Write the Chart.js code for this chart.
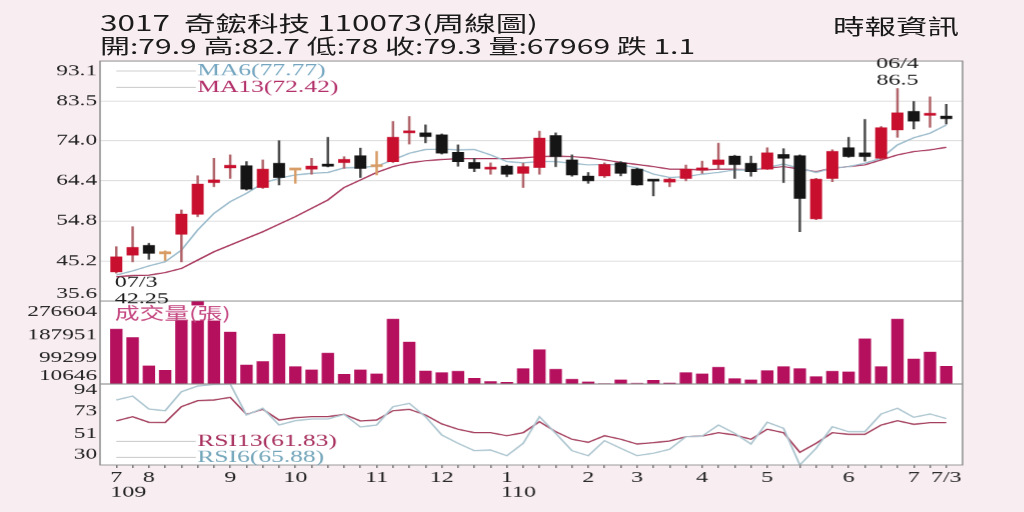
<!DOCTYPE html>
<html>
<head>
<meta charset="utf-8">
<script src="https://cdn.jsdelivr.net/npm/chart.js@4.4.1/dist/chart.umd.min.js"></script>
<style>
html, body { margin: 0; padding: 0; overflow: hidden; background: #f8edf1; }
#page { position: relative; width: 682.67px; height: 512px; transform: scaleX(1.5); transform-origin: 0 0; }
#chartBox { position: absolute; left: 0; top: 0; width: 682.67px; height: 512px; }
.head { position: absolute; font-family: "Noto Sans CJK TC", sans-serif; color: #1b1b1b; white-space: pre; line-height: 1; }
</style>
</head>
<body>
<div id="page">
  <div id="chartBox"><canvas id="weeklyKChart"></canvas></div>
  <div class="head" style="left:66.7px;top:12px;font-size:21px">3017  奇鋐科技 110073(周線圖)</div>
  <div class="head" style="left:66.7px;top:36px;font-size:20px">開:79.9 高:82.7 低:78 收:79.3 量:67969 跌 1.1</div>
  <div class="head" style="left:555.3px;top:15px;font-size:21px">時報資訊</div>
</div>
<script>
// weekly bars 109/07/03 .. 110/07/03
const openPrice = [42.6, 46.6, 48.9, 46.9, 51.6, 56.4, 64.0, 67.5, 68.0, 62.8,
    68.6, 67.0, 67.2, 68.1, 68.8, 70.4, 67.8, 69.0, 75.9, 75.9,
    75.4, 71.2, 68.8, 67.2, 67.9, 66.2, 67.6, 75.2, 69.4, 65.5,
    65.6, 68.7, 67.2, 64.4, 64.1, 65.0, 67.0, 68.3, 70.3, 68.6,
    67.2, 70.7, 70.4, 55.3, 65.0, 72.3, 71.1, 69.8, 76.6, 81.0,
    80.1, 79.9];
const closePrice = [46.2, 48.4, 47.0, 46.9, 56.4, 63.6, 64.6, 68.1, 62.4, 67.2,
    65.2, 67.0, 67.9, 67.9, 69.5, 67.4, 67.8, 74.8, 76.2, 75.0,
    71.0, 69.0, 67.4, 67.4, 66.0, 67.8, 74.6, 70.2, 65.8, 64.4,
    68.3, 66.2, 63.4, 64.3, 64.8, 67.2, 67.2, 69.4, 68.3, 66.6,
    71.1, 69.8, 60.2, 64.8, 71.4, 70.2, 70.2, 77.1, 80.7, 78.7,
    80.4, 79.3];
const highPrice = [48.6, 53.4, 49.4, 47.6, 57.4, 65.6, 69.8, 70.6, 69.0, 69.4,
    74.0, 67.4, 69.8, 74.8, 70.2, 72.2, 71.4, 78.6, 79.8, 77.8,
    75.6, 73.0, 69.8, 68.7, 68.2, 68.6, 76.3, 75.9, 70.6, 66.4,
    68.7, 69.0, 67.4, 64.5, 65.0, 68.2, 69.1, 73.4, 70.5, 70.3,
    72.3, 72.1, 70.6, 65.0, 71.8, 74.8, 79.1, 77.4, 86.5, 83.4,
    84.5, 82.7];
const lowPrice = [42.25, 45.0, 45.6, 45.3, 45.0, 55.8, 63.0, 65.0, 62.2, 62.6,
    63.4, 63.8, 66.0, 67.7, 67.4, 65.2, 65.8, 68.8, 73.2, 73.5,
    70.8, 67.9, 66.6, 66.0, 65.4, 62.8, 66.0, 67.8, 65.5, 63.8,
    65.2, 65.6, 63.3, 60.8, 63.0, 64.4, 66.2, 67.4, 65.0, 65.5,
    67.1, 64.0, 52.2, 55.1, 64.2, 70.0, 69.1, 69.4, 74.8, 76.8,
    77.2, 78.0];
const ma6 = [41.8, 42.8, 44.0, 45.0, 47.8, 52.6, 56.6, 59.4, 61.4, 63.8,
    65.0, 65.8, 66.2, 66.4, 67.5, 67.6, 67.9, 69.4, 71.0, 71.9,
    72.0, 71.8, 71.9, 70.6, 69.0, 68.7, 69.0, 69.0, 68.6, 68.2,
    68.3, 68.2, 67.5, 66.0, 65.2, 65.4, 66.0, 66.4, 67.0, 67.0,
    67.6, 68.4, 67.4, 66.4, 67.4, 67.8, 68.6, 69.8, 73.0, 74.7,
    75.8, 77.77];
const ma13 = [41.4, 41.7, 41.8, 42.4, 43.4, 45.4, 47.4, 49.0, 50.6, 52.2,
    54.0, 55.8, 57.8, 59.8, 62.8, 64.6, 66.4, 67.8, 68.7, 69.2,
    69.5, 69.7, 69.7, 69.7, 69.7, 69.9, 70.2, 70.3, 70.2, 69.9,
    69.4, 68.8, 68.3, 67.8, 67.2, 67.2, 67.0, 67.2, 67.2, 67.0,
    67.4, 67.8, 67.2, 66.6, 67.4, 67.8, 68.2, 69.4, 70.6, 71.4,
    71.8, 72.42];
const volume = [210000, 177800, 69100, 52600, 290000, 318000, 290000, 198500, 73000, 85600,
    190800, 66400, 53800, 117900, 37200, 53800, 38400, 248400, 160100, 49900,
    43400, 48800, 21900, 8800, 6500, 58800, 130600, 56400, 18000, 7700,
    1200, 15400, 2700, 14200, 3800, 43400, 38400, 64100, 20400, 15400,
    51100, 66400, 58800, 28000, 48800, 46100, 172800, 66400, 248400, 96000,
    121700, 67969];
const rsi6 = [84.2, 88.1, 75.3, 73.6, 92.4, 98.0, 99.5, 100, 69.4, 76.0,
    59.5, 63.8, 65.4, 65.4, 70.0, 57.5, 59.5, 77.6, 80.9, 67.7,
    49.6, 41.4, 34.1, 34.8, 29.2, 41.4, 67.7, 51.3, 34.1, 29.2,
    44.0, 36.5, 29.2, 31.6, 35.5, 47.9, 48.6, 59.5, 51.3, 40.7,
    62.2, 56.2, 20.0, 36.5, 57.8, 52.9, 52.9, 70.4, 76.0, 67.1,
    70.4, 65.88];
const rsi13 = [63.5, 67.7, 62.2, 62.0, 77.6, 83.5, 84.2, 86.8, 70.0, 75.0,
    64.4, 66.7, 67.7, 67.7, 70.0, 63.5, 64.4, 73.6, 75.0, 69.4,
    60.5, 55.3, 51.9, 51.9, 48.9, 51.9, 62.8, 52.9, 45.4, 42.4,
    48.9, 45.4, 40.7, 42.0, 43.7, 47.9, 48.6, 51.9, 49.6, 45.4,
    55.3, 51.9, 32.5, 41.4, 51.9, 50.3, 50.3, 59.5, 63.8, 60.2,
    61.8, 61.83];

const priceTicks = [35.6, 45.2, 54.8, 64.4, 74.0, 83.5, 93.1];
const volumeTicks = [10646, 99299, 187951, 276604];
const rsiTicks = [30, 51, 73, 94];
const monthLabels = ['7', '8', '9', '10', '11', '12', '1', '2', '3', '4', '5', '6', '7', '7/3'];
const monthWeek = [1, 3, 8, 12, 17, 21, 25, 30, 33, 37, 41, 46, 50, 52];
const yearLabels = ['109', '110'];
const yearWeek = [1, 25];

const RED = '#c8102e', BLACK = '#151515', FLAT = '#d89c66';
const SERIF = '"Liberation Serif", "Times New Roman", serif';

function candleColor(i) {
    if (closePrice[i] > openPrice[i]) return RED;
    if (closePrice[i] < openPrice[i]) return BLACK;
    return FLAT;
}
function wickColor(i) {
    let c = candleColor(i);
    if (c == RED) return '#b0646a';
    if (c == BLACK) return '#4a4a4a';
    return FLAT;
}
function points(arr) {
    return arr.map((v, i) => ({ x: i + 1, y: v }));
}
function clamp(v, lo, hi) {
    return Math.min(Math.max(v, lo), hi);
}
function zeroWidth(scale) { scale.width = 0; }

const panelPlugin = {
    id: 'panels',
    beforeDraw(chart) {
        const { ctx, chartArea: a } = chart;
        ctx.save();
        ctx.fillStyle = '#ffffff';
        ctx.fillRect(a.left, a.top, a.right - a.left, a.bottom - a.top);
        ctx.restore();
    },
    afterDatasetsDraw(chart) {
        // volume caption sits on a white patch over the bars
        const { ctx, scales } = chart;
        const x0 = scales.x.getPixelForValue(1) - 1;
        const y0 = scales.yV.top + 12;
        ctx.save();
        ctx.font = '16.5px "Noto Sans CJK TC"';
        const w = ctx.measureText('成交量(張)').width;
        ctx.fillStyle = '#ffffff';
        ctx.fillRect(x0 - 1, y0 - 7.5, w + 2, 15);
        ctx.fillStyle = '#c4457f';
        ctx.textBaseline = 'middle';
        ctx.fillText('成交量(張)', x0, y0);
        ctx.restore();
    },
    afterDraw(chart) {
        const { ctx, chartArea: a, scales } = chart;
        const { x, yP, yV, yR } = scales;
        ctx.save();

        ctx.strokeStyle = '#8c8c8c';
        ctx.lineWidth = 1;
        ctx.strokeRect(a.left, a.top, a.right - a.left, a.bottom - a.top);
        [yV.top, yR.top].forEach(y => {
            ctx.beginPath();
            ctx.moveTo(a.left, y);
            ctx.lineTo(a.right, y);
            ctx.stroke();
        });

        // axis labels
        ctx.fillStyle = '#222';
        ctx.textBaseline = 'middle';
        ctx.textAlign = 'right';
        ctx.font = '15.5px ' + SERIF;
        const lx = a.left - 2;
        priceTicks.forEach(v => ctx.fillText(v.toFixed(1), lx, clamp(yP.getPixelForValue(v), yP.top + 10, yP.bottom - 7)));
        volumeTicks.forEach(v => ctx.fillText(String(v), lx, clamp(yV.getPixelForValue(v), yV.top + 10, yV.bottom - 8)));
        rsiTicks.forEach(v => ctx.fillText(String(v), lx, clamp(yR.getPixelForValue(v), yR.top + 6, yR.bottom - 8)));

        ctx.font = '16px ' + SERIF;
        ctx.textAlign = 'center';
        monthLabels.forEach((m, i) => ctx.fillText(m, x.getPixelForValue(monthWeek[i]), a.bottom + 12.5));
        ctx.textAlign = 'left';
        yearLabels.forEach((yl, i) => {
            let month = monthLabels[monthWeek.indexOf(yearWeek[i])];
            let xl = x.getPixelForValue(yearWeek[i]) - ctx.measureText(month).width / 2;
            ctx.fillText(yl, xl, a.bottom + 27.5);
        });

        // legends
        const legX0 = x.getPixelForValue(1);
        const legX1 = legX0 + 53;
        function legend(y, text, color) {
            ctx.strokeStyle = '#c9c9c9';
            ctx.beginPath();
            ctx.moveTo(legX0, y);
            ctx.lineTo(legX1, y);
            ctx.stroke();
            ctx.fillStyle = color;
            ctx.fillText(text, legX1 + 1, y);
        }
        ctx.font = '17px ' + SERIF;
        ctx.textAlign = 'left';
        legend(yP.top + 10, 'MA6(' + ma6[ma6.length - 1].toFixed(2) + ')', '#74a6c0');
        legend(yP.top + 26.5, 'MA13(' + ma13[ma13.length - 1].toFixed(2) + ')', '#b3306a');
        legend(yR.top + 57.5, 'RSI13(' + rsi13[rsi13.length - 1].toFixed(2) + ')', '#a8305e');
        legend(yR.top + 73.5, 'RSI6(' + rsi6[rsi6.length - 1].toFixed(2) + ')', '#74a6bb');

        // low / high marks
        ctx.fillStyle = '#1b1b1b';
        ctx.font = '16px ' + SERIF;
        let lowIdx = lowPrice.indexOf(Math.min(...lowPrice));
        let highIdx = highPrice.indexOf(Math.max(...highPrice));
        ctx.textAlign = 'left';
        ctx.fillText('07/3', x.getPixelForValue(lowIdx + 1) - 1, yP.bottom - 18.5);
        ctx.fillText(String(lowPrice[lowIdx]), x.getPixelForValue(lowIdx + 1) - 1, yP.bottom - 2);
        ctx.textAlign = 'center';
        ctx.fillText('06/4', x.getPixelForValue(highIdx + 1), yP.top + 3);
        ctx.fillText(String(highPrice[highIdx]), x.getPixelForValue(highIdx + 1), yP.top + 19.5);
        ctx.restore();
    }
};

let weeklyKChartEl = document.getElementById('weeklyKChart').getContext('2d');
let weeklyKChart = new Chart(weeklyKChartEl, {
    data: {
        datasets: [
            {
                type: 'bar',
                label: 'body',
                yAxisID: 'yP',
                data: openPrice.map((o, i) => ({ x: i + 1, y: [o, closePrice[i]] })),
                backgroundColor: openPrice.map((o, i) => candleColor(i)),
                barThickness: 7.3,
                minBarLength: 2,
                grouped: false,
                order: 0
            },
            {
                type: 'bar',
                label: 'wick',
                yAxisID: 'yP',
                data: lowPrice.map((l, i) => ({ x: i + 1, y: [l, highPrice[i]] })),
                backgroundColor: lowPrice.map((l, i) => wickColor(i)),
                barThickness: 1,
                grouped: false,
                order: 1
            },
            {
                type: 'line',
                label: 'MA6',
                yAxisID: 'yP',
                data: points(ma6),
                borderColor: '#9cbccc',
                borderWidth: 1.3,
                pointRadius: 0,
                order: 2
            },
            {
                type: 'line',
                label: 'MA13',
                yAxisID: 'yP',
                data: points(ma13),
                borderColor: '#a8385e',
                borderWidth: 1.3,
                pointRadius: 0,
                order: 2
            },
            {
                type: 'bar',
                label: '成交量',
                yAxisID: 'yV',
                data: points(volume),
                backgroundColor: '#b5105e',
                barThickness: 7.6,
                grouped: false
            },
            {
                type: 'line',
                label: 'RSI6',
                yAxisID: 'yR',
                data: points(rsi6),
                borderColor: '#adc6d0',
                borderWidth: 1.3,
                pointRadius: 0
            },
            {
                type: 'line',
                label: 'RSI13',
                yAxisID: 'yR',
                data: points(rsi13),
                borderColor: '#a4405e',
                borderWidth: 1.3,
                pointRadius: 0
            }
        ]
    },
    options: {
        responsive: true,
        maintainAspectRatio: false,
        devicePixelRatio: 1.5,
        animation: false,
        layout: {
            autoPadding: false,
            padding: { left: 66.67, right: 41.33, top: 61, bottom: 47 }
        },
        plugins: {
            legend: { display: false },
            tooltip: { enabled: false }
        },
        scales: {
            x: {
                type: 'linear',
                min: 0,
                max: 53,
                offset: false,
                position: 'bottom',
                afterBuildTicks: (s) => { s.ticks = openPrice.map((o, i) => ({ value: i + 1 })); },
                afterFit: (s) => { s.height = 0; },
                ticks: { display: false },
                border: { display: false },
                grid: { offset: false, drawOnChartArea: false, drawTicks: true, tickLength: 3, color: '#777' }
            },
            // stacked panels: last one listed sits on top
            yR: {
                type: 'linear',
                position: 'left',
                stack: 'panels',
                stackWeight: 81,
                min: 20,
                max: 100,
                afterFit: zeroWidth,
                ticks: { display: false },
                border: { display: false },
                grid: { display: false }
            },
            yV: {
                type: 'linear',
                position: 'left',
                stack: 'panels',
                stackWeight: 83,
                min: 0,
                max: 318000,
                afterFit: zeroWidth,
                ticks: { display: false },
                border: { display: false },
                grid: { display: false }
            },
            yP: {
                type: 'linear',
                position: 'left',
                stack: 'panels',
                stackWeight: 240,
                min: 35.6,
                max: 93.1,
                afterFit: zeroWidth,
                afterBuildTicks: (s) => { s.ticks = priceTicks.map(v => ({ value: v })); },
                ticks: { display: false },
                border: { display: false },
                grid: { color: '#dcdcdc', drawTicks: false }
            }
        }
    },
    plugins: [panelPlugin]
});
</script>
</body>
</html>
